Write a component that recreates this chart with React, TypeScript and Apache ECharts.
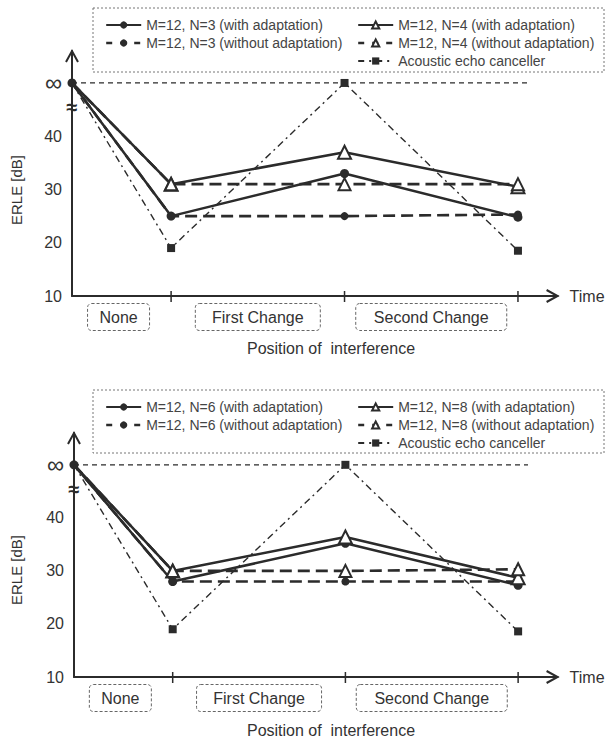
import React, { useEffect, useRef } from 'react';
import * as echarts from 'echarts';

// ---------- data ----------
const INF = 50; // position of the "∞" level on the ERLE axis
const timePositions = [0, 1, 2.75, 4.5];
const intervalLabels = ['None', 'First Change', 'Second Change'];
const yTickValues = [10, 20, 30, 40, 50];
const breakValue = 45.5;

const namesA = [
  'M=12, N=3 (with adaptation)',
  'M=12, N=3 (without adaptation)',
  'M=12, N=4 (with adaptation)',
  'M=12, N=4 (without adaptation)',
  'Acoustic echo canceller',
];
const aN3With = [INF, 25, 33, 24.8];
const aN3Without = [INF, 25, 25, 25.3];
const aN4With = [INF, 31, 37, 30.5];
const aN4Without = [INF, 31, 31, 31];
const aAec = [INF, 19, INF, 18.5];

const namesB = [
  'M=12, N=6 (with adaptation)',
  'M=12, N=6 (without adaptation)',
  'M=12, N=8 (with adaptation)',
  'M=12, N=8 (without adaptation)',
  'Acoustic echo canceller',
];
const bN6With = [INF, 28, 35.2, 27.3];
const bN6Without = [INF, 28, 28, 28];
const bN8With = [INF, 30, 36.4, 28.7];
const bN8Without = [INF, 30, 30, 30.3];
const bAec = [INF, 19, INF, 18.6];

// ---------- styles / layout ----------
const INK = '#2b2b2b';
const TXT = '#333';
const FONT = '"Liberation Sans", Arial, Helvetica, sans-serif';

const panelLayout = [
  { grid: { left: 72, top: 51, width: 485.6, height: 245 }, box: [93, 8, 511, 64], legendTop: 18, erleY: 190, posY: 348 },
  { grid: { left: 74, top: 433, width: 483.6, height: 244 }, box: [93, 390, 511, 63], legendTop: 400, erleY: 570, posY: 730 },
];
const labelBoxWidths = [62, 125, 151];

function mk(vals: number[], firstSymbol: boolean) {
  return vals.map((v, i) => {
    const item: any = { value: [timePositions[i], v] };
    if (i === 0 && !firstSymbol) item.symbol = 'none';
    return item;
  });
}

function panelSeries(idx: number, names: string[], d: number[][]) {
  const base = { type: 'line', xAxisIndex: idx, yAxisIndex: idx, animation: false, z: 3 };
  return [
    {
      ...base, name: names[0], data: mk(d[0], true), symbol: 'circle', symbolSize: 9,
      lineStyle: { color: INK, width: 2.5, type: 'solid' }, itemStyle: { color: INK }, z: 5,
    },
    {
      ...base, name: names[1], data: mk(d[1], false), symbol: 'circle', symbolSize: 8,
      lineStyle: { color: INK, width: 2.6, type: [12, 6] }, itemStyle: { color: INK },
    },
    {
      ...base, name: names[2], data: mk(d[2], false), symbol: 'triangle', symbolSize: 13,
      lineStyle: { color: INK, width: 2.5, type: 'solid' },
      itemStyle: { color: '#fff', borderColor: INK, borderWidth: 2 }, z: 6,
    },
    {
      ...base, name: names[3], data: mk(d[3], false), symbol: 'triangle', symbolSize: 12,
      lineStyle: { color: INK, width: 2.6, type: [12, 6] },
      itemStyle: { color: '#fff', borderColor: INK, borderWidth: 2 }, z: 6,
    },
    {
      ...base, name: names[4], data: mk(d[4], false), symbol: 'rect', symbolSize: 8,
      lineStyle: { color: INK, width: 1.4, type: [7, 4, 2, 4] }, itemStyle: { color: INK },
    },
    {
      ...base, name: 'infinity level', data: [[timePositions[0], INF], [timePositions[3] + 0.1, INF]],
      symbol: 'none', lineStyle: { color: INK, width: 1.2, type: [5, 4] }, z: 2, silent: true,
    },
  ];
}

function legendsFor(idx: number, names: string[]) {
  const top = panelLayout[idx].legendTop;
  const common = {
    orient: 'vertical', top, padding: 0, itemWidth: 35, itemHeight: 9, itemGap: 4,
    selectedMode: false,
    textStyle: { fontSize: 14, color: '#444', fontFamily: FONT },
  };
  const dashed = (n: string) => ({ name: n, lineStyle: { type: [6, 8], width: 2.4 } });
  return [
    { ...common, left: 105, data: [names[0], dashed(names[1])] },
    { ...common, left: 357, data: [names[2], dashed(names[3]), { name: names[4], lineStyle: { type: [6, 5, 2, 5] } }] },
  ];
}

export default function App() {
  const ref = useRef<HTMLDivElement>(null);
  useEffect(() => {
    const chart = echarts.init(ref.current!, null, { renderer: 'svg' });
    const axisY = (i: number) => ({
      type: 'value', gridIndex: i, min: 10, max: 56, interval: 10,
      axisLine: { show: true, lineStyle: { color: INK, width: 2 } },
      axisTick: { show: false },
      splitLine: { show: false },
      axisLabel: {
        margin: 10, color: TXT, fontSize: 16, fontFamily: FONT,
        formatter: (v: number) => (v === INF ? '{inf|∞}' : yTickValues.includes(v) ? String(v) : ''),
        rich: { inf: { fontSize: 24, color: TXT, fontFamily: FONT } },
      },
    });
    const axisX = (i: number) => ({
      type: 'value', gridIndex: i, min: 0, max: 4.9,
      axisLine: { show: true, onZero: false, lineStyle: { color: INK, width: 2 } },
      axisTick: { show: false }, axisLabel: { show: false }, splitLine: { show: false },
      name: 'Time', nameLocation: 'end', nameGap: 12,
      nameTextStyle: { fontSize: 16, color: TXT, fontFamily: FONT },
    });
    const option: any = {
      animation: false,
      backgroundColor: '#fff',
      textStyle: { fontFamily: FONT },
      grid: panelLayout.map((p) => p.grid),
      xAxis: [axisX(0), axisX(1)],
      yAxis: [axisY(0), axisY(1)],
      legend: [...legendsFor(0, namesA), ...legendsFor(1, namesB)],
      series: [
        ...panelSeries(0, namesA, [aN3With, aN3Without, aN4With, aN4Without, aAec]),
        ...panelSeries(1, namesB, [bN6With, bN6Without, bN8With, bN8Without, bAec]),
      ],
    };
    chart.setOption(option);

    const g: any[] = [];
    panelLayout.forEach((p, i) => {
      const px = (x: number, y: number) => chart.convertToPixel({ gridIndex: i } as any, [x, y]) as number[];
      const [x0, yBase] = px(0, 10);
      const [, yTop] = px(0, 56);
      const [xEnd] = px(4.9, 10);
      // y-axis arrow
      g.push({ type: 'polyline', shape: { points: [[x0 - 6, yTop + 11], [x0, yTop], [x0 + 6, yTop + 11]] }, style: { stroke: INK, lineWidth: 2, fill: 'none' }, z: 10 });
      // x-axis arrow
      g.push({ type: 'polyline', shape: { points: [[xEnd - 11, yBase - 6], [xEnd, yBase], [xEnd - 11, yBase + 6]] }, style: { stroke: INK, lineWidth: 2, fill: 'none' }, z: 10 });
      // x ticks
      timePositions.slice(1).forEach((t) => {
        const [xt] = px(t, 10);
        g.push({ type: 'line', shape: { x1: xt, y1: yBase - 5, x2: xt, y2: yBase + 6 }, style: { stroke: INK, lineWidth: 1.5 }, z: 10 });
      });
      // axis break mark
      const [, yb] = px(0, breakValue);
      g.push({ type: 'text', x: x0, y: yb, style: { text: '≈', fontSize: 20, fill: INK, align: 'center', verticalAlign: 'middle', fontFamily: FONT, fontWeight: 'bold' }, z: 10 });
      // interval label boxes
      intervalLabels.forEach((lab, k) => {
        const [xa] = px(timePositions[k], 10);
        const [xb] = px(timePositions[k + 1], 10);
        const cx = (xa + xb) / 2 - (k === 0 ? 3 : 0);
        const w = labelBoxWidths[k];
        const cy = yBase + 21;
        g.push({ type: 'rect', shape: { x: cx - w / 2, y: cy - 13.5, width: w, height: 27, r: 4 }, style: { fill: 'none', stroke: '#666', lineWidth: 1, lineDash: [3, 2] }, z: 10 });
        g.push({ type: 'text', x: cx, y: cy, style: { text: lab, fontSize: 16, fill: TXT, align: 'center', verticalAlign: 'middle', fontFamily: FONT }, z: 11 });
      });
      // axis titles
      g.push({ type: 'text', x: 331, y: p.posY, style: { text: 'Position of  interference', fontSize: 16, fill: TXT, align: 'center', verticalAlign: 'middle', fontFamily: FONT }, z: 10 });
      g.push({ type: 'text', x: 16, y: p.erleY, rotation: Math.PI / 2, style: { text: 'ERLE [dB]', fontSize: 15, fill: TXT, align: 'center', verticalAlign: 'middle', fontFamily: FONT }, z: 10 });
      // legend frame
      const [bx, by, bw, bh] = p.box;
      g.push({ type: 'rect', shape: { x: bx, y: by, width: bw, height: bh }, style: { fill: 'none', stroke: '#777', lineWidth: 1, lineDash: [2, 2] }, z: 1 });
    });
    chart.setOption({ graphic: g });
    return () => chart.dispose();
  }, []);
  return <div ref={ref} style={{ position: 'absolute', left: 0, top: 0, width: 607, height: 739, background: '#fff' }} />;
}
